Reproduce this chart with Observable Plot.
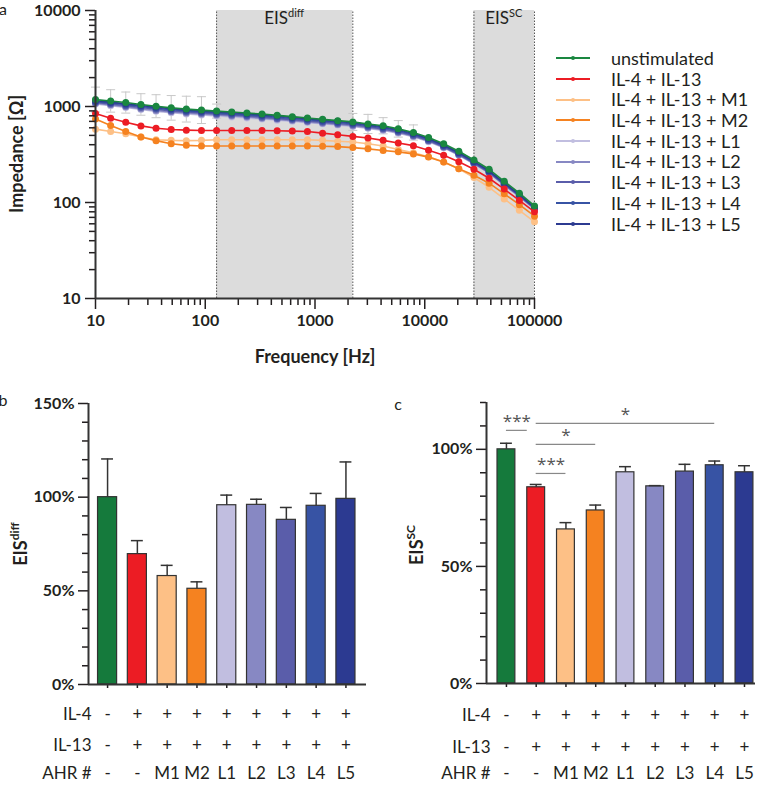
<!DOCTYPE html>
<html><head><meta charset="utf-8">
<script src="https://cdn.jsdelivr.net/npm/d3@7"></script>
<script src="https://cdn.jsdelivr.net/npm/@observablehq/plot@0.6"></script>
<style>
body{margin:0;background:#fff;}
#root{position:relative;width:766px;height:786px;overflow:hidden;font-family:Lato,'Open Sans',sans-serif;color:#231f20;}
.panel{position:absolute;}
#legend{position:absolute;left:556px;top:48px;}
.lrow{height:20.7px;line-height:20.7px;display:flex;align-items:center;font-size:18px;white-space:nowrap;}
.lrow svg{margin-right:21px;}
</style></head><body><div id="root">
<div class="panel" id="pa" style="left:0;top:0"></div>
<div id="legend"></div>
<div class="panel" id="pb" style="left:0;top:380px"></div>
<div class="panel" id="pc" style="left:380px;top:380px"></div>
</div>
<script>
// ---------- data: panel a ----------
const freqs = [10,13.74,18.87,25.93,35.62,48.94,67.23,92.37,126.9,174.3,239.5,329,452,621,853.1,1172,1610,2212,3039,4175,5736,7880,10826,14874,20434,28072,38566,52983,72790,100000];
const seriesNames = ["unstimulated","IL-4 + IL-13","IL-4 + IL-13 + M1","IL-4 + IL-13 + M2","IL-4 + IL-13 + L1","IL-4 + IL-13 + L2","IL-4 + IL-13 + L3","IL-4 + IL-13 + L4","IL-4 + IL-13 + L5"];
const seriesColors = ["#1a8740","#ec1c24","#fdc086","#f58220","#c1bee0","#8788c3","#5a5daa","#3753a4","#2c3a91"];
const zUnstim = [1180,1143,1099,1050,1007,968,939,917,896,875,855,834,809,784,760,735,712,691,658,630,585,536,476,410,342,277,222,166,125,92];
const zIL = [847,753,685,628,594,576,567,562,562,562,562,562,558,554,550,528,507,488,469,444,417,391,351,311,266,222,179,138,105,80];
const zM1 = [581,549,520,481,451,444,441,444,451,451,451,451,451,451,451,444,434,427,410,388,356,329,299,264,225,182,144,109,83,63];
const zM2 = [741,633,549,481,441,410,394,388,388,388,388,388,388,388,388,385,382,373,362,348,337,321,297,264,225,192,159,123,95,72];
const zL1 = [1060,1020,975,930,890,860,835,815,797,778,760,740,720,700,680,660,640,620,592,564,528,484,430,371,310,252,202,151,115,85];
const zL2 = [1080,1040,995,950,910,880,855,835,815,795,776,756,735,713,692,671,651,631,602,573,536,491,436,376,314,255,204,153,116,86];
const zL3 = [1100,1060,1020,975,935,900,875,855,835,815,795,775,752,730,708,686,665,645,615,585,546,500,443,381,318,258,206,154,117,87];
const zL4 = [1120,1090,1045,1000,960,925,900,878,858,838,818,797,773,750,727,704,682,661,630,600,560,512,453,390,325,263,210,157,119,88];
const zL5 = [1150,1110,1070,1025,985,950,922,900,880,860,840,818,795,770,745,722,700,678,646,615,573,524,464,398,332,268,214,160,121,89];
const seriesValues = [zUnstim,zIL,zM1,zM2,zL1,zL2,zL3,zL4,zL5];
const errUpperUnstim = [1592,1496,1415,1359,1327,1300,1280,1265,1060,null,null,null,null,null,null,null,null,847,828,765,713,643,null,null,null,null,null,null,null,null];
const eisDiffRange = [126.9, 2212];
const eisScRange = [28072, 100000];
const yMajor = [10,100,1000,10000];
const yMinor = [20,30,40,50,60,70,80,90,200,300,400,500,600,700,800,900,2000,3000,4000,5000,6000,7000,8000,9000];
const xMajor = [10,100,1000,10000,100000];
const xMinor = [20,30,40,50,60,70,80,90,200,300,400,500,600,700,800,900,2000,3000,4000,5000,6000,7000,8000,9000,20000,30000,40000,50000,60000,70000,80000,90000];

// ---------- data: panels b, c ----------
const barColors = ["#157a3c","#ec1c24","#fdc086","#f58220","#c1bee0","#8788c3","#5a5daa","#3753a4","#2c3a91"];
const il4Row = ["-","+","+","+","+","+","+","+","+"];
const il13Row = ["-","+","+","+","+","+","+","+","+"];
const ahrRow = ["-","-","M1","M2","L1","L2","L3","L4","L5"];
const eisDiff = [100, 69.6, 57.9, 51.1, 95.7, 95.9, 87.9, 95.4, 99.1];
const eisDiffErr = [120.4, 76.8, 63.6, 54.8, 101.1, 98.9, 94.5, 102.0, 118.8];
const eisSC = [100, 83.8, 65.8, 73.9, 90.2, 84.2, 90.5, 93.2, 90.2];
const eisSCErr = [102.6, 85.0, 68.7, 76.2, 92.6, 84.5, 93.6, 95.0, 93.0];
const sigFrom = [0, 1, 1, 1];
const sigTo = [0.7, 7, 3, 2];
const sigY = [108.1, 111.1, 102.1, 89.7];
const sigText = ["***", "*", "*", "***"];

const baseStyle = {fontFamily: "Lato, 'Open Sans', sans-serif", fontSize: "16px", fontWeight: "bold", color: "#231f20", background: "transparent", overflow: "visible"};
const hline = {draw(ctx, size){ const r = Math.sqrt(size/Math.PI); ctx.moveTo(-r,0); ctx.lineTo(r,0); }};

// ---------- panel a ----------
const longData = seriesNames.flatMap((name, s) => seriesValues[s].map((v, i) => ({s, f: freqs[i], v})));
const errData = freqs.map((f, i) => ({f, v: zUnstim[i], hi: errUpperUnstim[i]})).filter(d => d.hi != null).map(d => ({...d, lo: d.v*d.v/d.hi}));
const drawOrder = [4,5,6,7,8,2,3,1,0];
const marksA = [
  Plot.rect([eisDiffRange, eisScRange], {x1: d => d[0], x2: d => d[1], y1: () => 10, y2: () => 10000, fill: "#dcdcdc"}),
  Plot.ruleX([...eisDiffRange, ...eisScRange], {y1: () => 10, y2: () => 10000, stroke: "#555", strokeWidth: 1, strokeDasharray: "1.5,1.5"}),
  Plot.ruleX(errData, {x: "f", y1: "lo", y2: "hi", stroke: "#c8c8c8", strokeWidth: 1}),
  Plot.dot(errData, {x: "f", y: "hi", symbol: hline, r: 4.5, stroke: "#c8c8c8", strokeWidth: 1}),
  Plot.dot(errData, {x: "f", y: "lo", symbol: hline, r: 4.5, stroke: "#c8c8c8", strokeWidth: 1})
];
for (const s of drawOrder) {
  const d = longData.filter(e => e.s === s);
  marksA.push(Plot.line(d, {x: "f", y: "v", stroke: seriesColors[s], strokeWidth: 1.6}));
  marksA.push(Plot.dot(d, {x: "f", y: "v", fill: seriesColors[s], r: 3.5}));
}
marksA.push(
  Plot.axisY({ticks: yMajor, tickSize: 10, tickPadding: 5, tickFormat: d => String(d), label: null, strokeWidth: 1.5}),
  Plot.axisY({ticks: yMinor, tickSize: 6, tickFormat: () => "", label: null, strokeWidth: 1.5}),
  Plot.axisX({ticks: xMajor, tickSize: 11, tickPadding: 5, tickFormat: d => String(d), label: null, strokeWidth: 1.5}),
  Plot.axisX({ticks: xMinor, tickSize: 7, tickFormat: () => "", label: null, strokeWidth: 1.5}),
  Plot.ruleX([10], {stroke: "#333", strokeWidth: 2}),
  Plot.ruleY([10], {stroke: "#333", strokeWidth: 2})
);
const plotA = Plot.plot({
  width: 540, height: 380, marginTop: 10, marginBottom: 82, marginLeft: 95, marginRight: 6,
  x: {type: "log", domain: [10, 100000]},
  y: {type: "log", domain: [10, 10000]},
  style: baseStyle,
  marks: marksA
});
document.getElementById("pa").appendChild(plotA);
{
  const svg = d3.select(plotA);
  const xs = plotA.scale("x");
  const bandLabel = (range, sup) => {
    const cx = xs.apply(Math.sqrt(range[0]*range[1]));
    const t = svg.append("text").attr("x", cx).attr("y", 24).attr("text-anchor", "middle")
      .attr("font-size", 17).attr("font-weight", "normal").attr("fill", "#231f20");
    t.append("tspan").text("EIS");
    t.append("tspan").attr("dy", -7).attr("font-size", 11).text(sup);
  };
  bandLabel(eisDiffRange, "diff");
  bandLabel(eisScRange, "SC");
  svg.append("text").attr("transform", "translate(23,154) rotate(-90)").attr("text-anchor", "middle")
    .attr("font-size", 18).attr("font-weight", "bold").attr("fill", "#231f20").text("Impedance [Ω]");
  svg.append("text").attr("x", 315).attr("y", 363).attr("text-anchor", "middle")
    .attr("font-size", 18).attr("font-weight", "bold").attr("fill", "#231f20").text("Frequency [Hz]");
  svg.append("text").attr("x", 3).attr("y", 15).attr("font-size", 16).attr("font-weight", "normal").attr("fill", "#231f20").text("a");
}
// legend
{
  const lg = d3.select("#legend");
  seriesNames.forEach((name, s) => {
    const row = lg.append("div").attr("class", "lrow");
    const sv = row.append("svg").attr("width", 34).attr("height", 10);
    sv.append("line").attr("x1", 0).attr("x2", 34).attr("y1", 5).attr("y2", 5).attr("stroke", seriesColors[s]).attr("stroke-width", 2);
    sv.append("circle").attr("cx", 17).attr("cy", 5).attr("r", 2).attr("fill", seriesColors[s]);
    row.append("span").text(name);
  });
}

// ---------- bar panels ----------
function barPanel(opts) {
  const idx = d3.range(9);
  const bars = idx.map(i => ({i, v: opts.values[i], e: opts.errs[i], c: barColors[i]}));
  const marks = [
    Plot.rect(bars, {x1: d => d.i - opts.half, x2: d => d.i + opts.half, y1: () => 0, y2: "v", fill: "c", stroke: "#333", strokeWidth: 1.2}),
    Plot.ruleX(bars, {x: "i", y1: "v", y2: "e", stroke: "#333", strokeWidth: 1.5}),
    Plot.ruleY(bars, {x1: d => d.i - 0.2, x2: d => d.i + 0.2, y: "e", stroke: "#333", strokeWidth: 1.5}),
    Plot.axisY({ticks: opts.yMajor, tickSize: 10, tickPadding: 4, tickFormat: d => d + "%", label: null, strokeWidth: 1.5}),
    Plot.axisY({ticks: opts.yMinor, tickSize: 6, tickFormat: () => "", label: null, strokeWidth: 1.5}),
    Plot.axisX({ticks: idx, tickSize: 4, tickFormat: () => "", label: null, strokeWidth: 1.5}),
    Plot.ruleX([opts.xDomain[0]], {stroke: "#333", strokeWidth: 2}),
    Plot.ruleY([0], {stroke: "#333", strokeWidth: 2})
  ];
  const rows = [["IL-4", il4Row], ["IL-13", il13Row], ["AHR #", ahrRow]];
  rows.forEach(([label, vals], r) => {
    marks.push(Plot.text(idx, {x: d => d, text: d => vals[d], frameAnchor: "bottom", dy: opts.rowDy[r], fontWeight: "normal", fontSize: 17}));
    marks.push(Plot.text([label], {frameAnchor: "bottom-left", dx: opts.rowDx, dy: opts.rowDy[r], textAnchor: "end", fontWeight: "normal", fontSize: 17}));
  });
  if (opts.sig) marks.push(...opts.sig);
  return Plot.plot({
    width: opts.width, height: 406, marginTop: opts.mt, marginBottom: opts.mb, marginLeft: opts.ml, marginRight: opts.mr,
    x: {type: "linear", domain: opts.xDomain},
    y: {domain: opts.yDomain},
    style: baseStyle,
    marks
  });
}
function decorate(plot, letter, lx, ly, sup, tx, ty) {
  const svg = d3.select(plot);
  svg.append("text").attr("x", lx).attr("y", ly).attr("font-size", 16).attr("font-weight", "normal").attr("fill", "#231f20").text(letter);
  const t = svg.append("text").attr("transform", `translate(${tx},${ty}) rotate(-90)`).attr("text-anchor", "middle")
    .attr("font-size", 18).attr("font-weight", "bold").attr("fill", "#231f20");
  t.append("tspan").text("EIS");
  t.append("tspan").attr("dy", -8).attr("font-size", 12).text(sup);
}

const plotB = barPanel({
  values: eisDiff, errs: eisDiffErr, half: 0.32, width: 380, mt: 23, mb: 102, ml: 88, mr: 14,
  xDomain: [-0.64, 8.69], yDomain: [0, 150], yMajor: [0, 50, 100, 150],
  yMinor: [10,20,30,40,60,70,80,90,110,120,130,140], rowDy: [35, 66, 94], rowDx: 3
});
document.getElementById("pb").appendChild(plotB);
decorate(plotB, "b", 3, 26, "diff", 27, 164);

const sig = sigFrom.map((a, k) => ({a, b: sigTo[k], y: sigY[k], t: sigText[k]}));
const plotC = barPanel({
  values: eisSC, errs: eisSCErr, half: 0.30, width: 386, mt: 22, mb: 103, ml: 106, mr: 11,
  xDomain: [-0.67, 8.37], yDomain: [0, 120], yMajor: [0, 50, 100],
  yMinor: [10,20,30,40,60,70,80,90,110,120], rowDy: [37, 69, 95], rowDx: 4,
  sig: [
    Plot.ruleY(sig, {x1: "a", x2: "b", y: "y", stroke: "#888", strokeWidth: 1.2}),
    Plot.text(sig, {x: d => (d.a + d.b) / 2, y: "y", text: "t", dy: -9, fill: "#555", fontSize: 17, fontWeight: "normal", fontFamily: "'Open Sans', sans-serif"})
  ]
});
document.getElementById("pc").appendChild(plotC);
decorate(plotC, "c", 18, 30, "SC", 43, 165);
</script>
</body></html>
